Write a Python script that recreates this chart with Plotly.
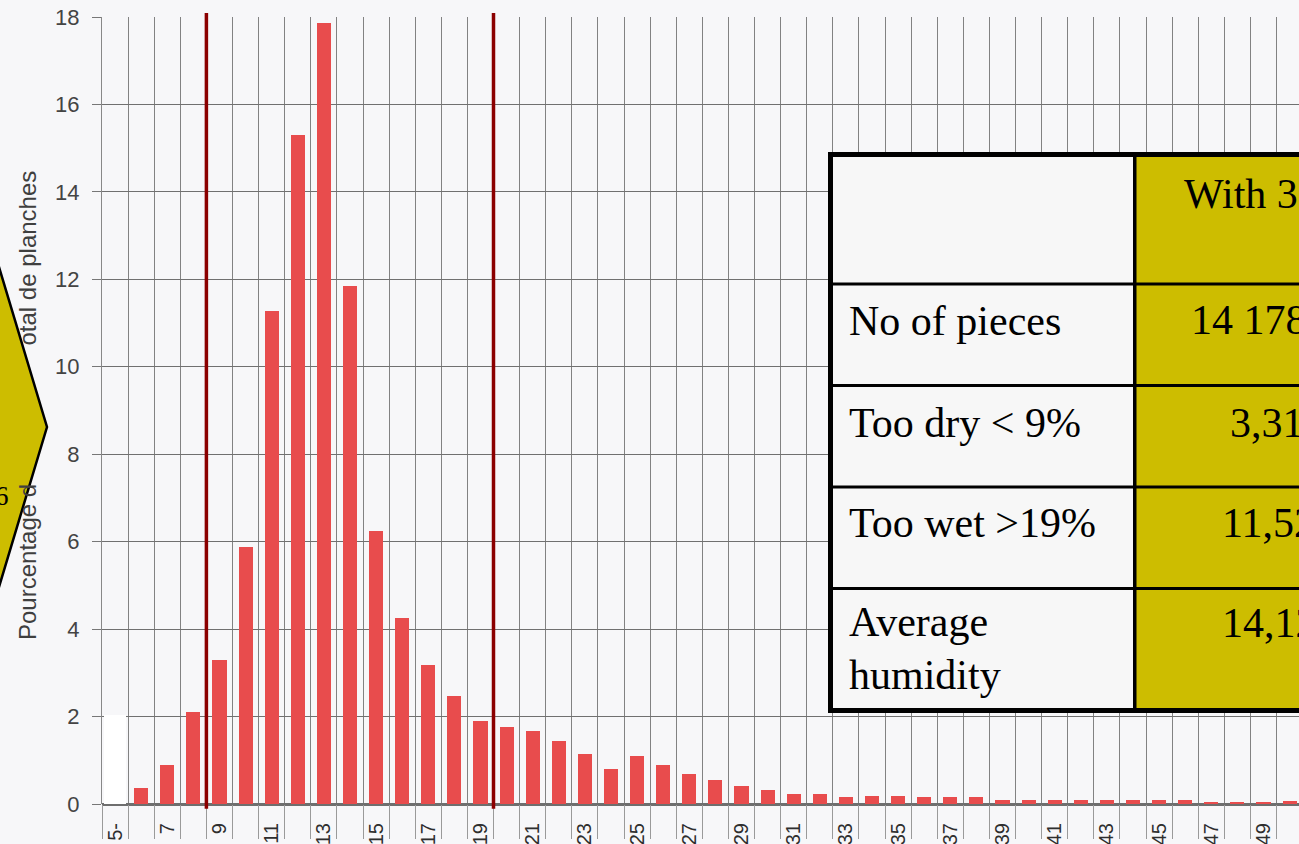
import plotly.graph_objects as go

# ---------------- data ----------------
categories = list(range(5, 51))                       # moisture classes (5- ... 50)
tick_labels = ["5-" if c == 5 else str(c) for c in range(5, 50, 2)]
bar_categories = list(range(6, 51))
bar_values = [0.36, 0.90, 2.10, 3.30, 5.88, 11.28, 15.30, 17.86, 11.85, 6.25,
              4.25, 3.17, 2.46, 1.90, 1.77, 1.68, 1.45, 1.15, 0.80, 1.10,
              0.90, 0.69, 0.55, 0.41, 0.32, 0.24, 0.24, 0.15, 0.18, 0.18,
              0.15, 0.15, 0.15, 0.10, 0.10, 0.10, 0.10, 0.10, 0.10, 0.10,
              0.10, 0.05, 0.04, 0.03, 0.08]
mask_category = [5]
mask_value = [2.04]
limit_boundaries = [8.5, 19.5]                       # red lines between 8|9 and 19|20

table_labels = ["", "No of pieces", "Too dry < 9%", "Too wet >19%", "Average", "humidity"]
table_values = ["With 3", "14 178", "3,31", "11,52", "14,12"]

y_ticks = list(range(0, 19, 2))

# ---------------- geometry ----------------
W, H = 1299, 844
L, R, T, B = 102, 0, 17, 40
PW, PH = W - L - R, H - T - B


def px(x):
    return (x - L) / PW


def py(y):
    return (H - B - y) / PH


idx = {c: i for i, c in enumerate(categories)}
x_right = (W - L) / 26.1 - 0.5

RED = "#E84C4D"
OLIVE = "#CDBD00"
BG = "#F7F7F9"

fig = go.Figure()
fig.add_trace(go.Bar(x=[idx[c] for c in mask_category], y=mask_value, width=0.84,
                     marker=dict(color="white", line=dict(width=0)), hoverinfo="skip"))
fig.add_trace(go.Bar(x=[idx[c] for c in bar_categories], y=bar_values, width=0.54,
                     marker=dict(color=RED, line=dict(width=0))))

shapes = []
# red limit lines
for b in limit_boundaries:
    xv = b - 5
    shapes.append(dict(type="line", xref="x", yref="paper", x0=xv, x1=xv,
                       y0=-0.006, y1=1.005, line=dict(color="#8B0000", width=3.5),
                       layer="above"))

# table
shapes.append(dict(type="rect", xref="paper", yref="paper",
                   x0=px(828), x1=px(1320), y0=py(713), y1=py(152),
                   fillcolor="black", line=dict(width=0), layer="above"))
rows = [(157, 282.5), (285.5, 384), (387, 485.5), (488.5, 587), (590, 708)]
for (t, b) in rows:
    shapes.append(dict(type="rect", xref="paper", yref="paper",
                       x0=px(833), x1=px(1133), y0=py(b), y1=py(t),
                       fillcolor="#F7F7F7", line=dict(width=0), layer="above"))
    shapes.append(dict(type="rect", xref="paper", yref="paper",
                       x0=px(1136.5), x1=px(1320), y0=py(b), y1=py(t),
                       fillcolor=OLIVE, line=dict(width=0), layer="above"))

# chevron on the left
chev = [(-20, 203.7), (47, 427), (-20, 650.3)]
path = "M {} {} L {} {} L {} {} Z".format(px(chev[0][0]), py(chev[0][1]),
                                         px(chev[1][0]), py(chev[1][1]),
                                         px(chev[2][0]), py(chev[2][1]))
shapes.append(dict(type="path", xref="paper", yref="paper", path=path,
                   fillcolor=OLIVE, line=dict(color="black", width=2.5), layer="above"))

ann = []
serif = dict(family="Liberation Serif, Times New Roman, serif", size=42, color="black")
label_y = [None, 321, 423, 523, 622, 675]
for lab, yy in zip(table_labels, label_y):
    if lab:
        ann.append(dict(text=lab, xref="paper", yref="paper", x=px(849), y=py(yy),
                        xanchor="left", yanchor="middle", showarrow=False,
                        font=serif, borderpad=0, borderwidth=0))
val_pos = [(1184, 193.5), (1191, 320.5), (1230, 422.5), (1222, 522.5), (1222, 622.5)]
for v, (xx, yy) in zip(table_values, val_pos):
    ann.append(dict(text=v, xref="paper", yref="paper", x=px(xx), y=py(yy),
                    xanchor="left", yanchor="middle", showarrow=False,
                    font=serif, borderpad=0, borderwidth=0))

# chevron text fragment
ann.append(dict(text="6", xref="paper", yref="paper", x=px(11), y=py(496),
                xanchor="right", yanchor="middle", showarrow=False,
                font=dict(family="Liberation Serif, serif", size=27, color="black")))

# y-axis title fragments (middle part hidden behind the chevron)
sans = dict(family="Liberation Sans, Arial, sans-serif", size=24, color="#3f3f3f")
ann.append(dict(text="otal de planches", xref="paper", yref="paper", x=px(27), y=py(171),
                xanchor="center", yanchor="top", textangle=-90, showarrow=False,
                font=sans, borderpad=0, borderwidth=0))
ann.append(dict(text="Pourcentage d", xref="paper", yref="paper", x=px(27), y=py(640),
                xanchor="center", yanchor="bottom", textangle=-90, showarrow=False,
                font=sans, borderpad=0, borderwidth=0))

fig.update_layout(
    width=W, height=H,
    margin=dict(l=L, r=R, t=T, b=B, pad=0),
    paper_bgcolor=BG, plot_bgcolor=BG,
    showlegend=False, bargap=0,
    shapes=shapes, annotations=ann,
)
fig.update_xaxes(
    range=[-0.5, x_right], autorange=False, automargin=False,
    tickmode="array", tickvals=[idx[c] for c in range(5, 50, 2)], ticktext=tick_labels,
    tickangle=-90, ticks="outside", ticklen=0, tickcolor="rgba(0,0,0,0)",
    ticklabelstandoff=10,
    tickfont=dict(family="Liberation Sans, Arial, sans-serif", size=20, color="#2e2e2e"),
    showgrid=False, zeroline=False, showline=False,
    minor=dict(tickmode="linear", tick0=-0.5, dtick=1, showgrid=True,
               gridcolor="#828282", gridwidth=1, ticks="outside", ticklen=34,
               tickcolor="#9a9a9a", tickwidth=1),
)
fig.update_yaxes(
    range=[0, 18], autorange=False, automargin=False,
    tickmode="array", tickvals=y_ticks,
    ticks="outside", ticklen=9, tickcolor="#777777", tickwidth=1,
    ticklabelstandoff=8,
    tickfont=dict(family="Liberation Sans, Arial, sans-serif", size=22, color="#444444"),
    showgrid=True, gridcolor="#707070", gridwidth=1.2,
    zeroline=True, zerolinecolor="#6e6e6e", zerolinewidth=2.5,
    showline=True, linecolor="#888888", linewidth=1,
)

fig.write_html("out.html", config={"displayModeBar": False},
               post_script="document.body.style.margin='0';document.body.style.overflow='hidden';")
